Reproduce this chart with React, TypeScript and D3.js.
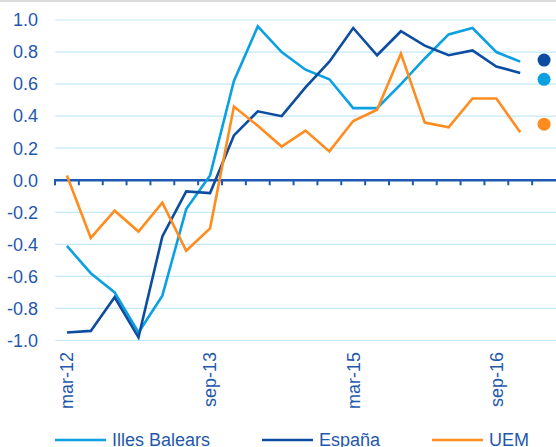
import { useEffect, useRef } from "react";
import * as d3 from "d3";

const quarters = [
  "mar-12", "jun-12", "sep-12", "dic-12",
  "mar-13", "jun-13", "sep-13", "dic-13",
  "mar-14", "jun-14", "sep-14", "dic-14",
  "mar-15", "jun-15", "sep-15", "dic-15",
  "mar-16", "jun-16", "sep-16", "dic-16",
  "2017",
];
const shownLabels = ["mar-12", "sep-13", "mar-15", "sep-16"];

const illesBalears = [-0.41, -0.58, -0.70, -0.95, -0.72, -0.18, 0.03, 0.62, 0.96, 0.80, 0.69, 0.63, 0.45, 0.45, 0.60, 0.76, 0.91, 0.95, 0.80, 0.74];
const espana = [-0.95, -0.94, -0.73, -0.98, -0.35, -0.07, -0.08, 0.28, 0.43, 0.40, 0.58, 0.74, 0.95, 0.78, 0.93, 0.84, 0.78, 0.81, 0.71, 0.67];
const uem = [0.03, -0.36, -0.19, -0.32, -0.14, -0.44, -0.30, 0.46, 0.34, 0.21, 0.31, 0.18, 0.37, 0.44, 0.79, 0.36, 0.33, 0.51, 0.51, 0.30];

// forecast dots in the last slot
const dotValues = [0.63, 0.75, 0.35];

const seriesNames = ["Illes Balears", "España", "UEM"];
const seriesColors = ["#0AA0E2", "#0C4DA2", "#FF8C1E"];
const yTicks = [1.0, 0.8, 0.6, 0.4, 0.2, 0.0, -0.2, -0.4, -0.6, -0.8, -1.0];

const textColor = "#1F58AC";
const font = "'Liberation Sans', Arial, sans-serif";

export default function App() {
  const svgRef = useRef<SVGSVGElement>(null);

  useEffect(() => {
    if (!svgRef.current) return;
    const svg = d3.select(svgRef.current);
    svg.selectAll("*").remove();

    const width = 556;

    const x = d3.scaleBand<string>()
      .domain(quarters)
      .range([55, 556])
      .padding(0);

    const y = d3.scaleLinear()
      .domain([-1, 1])
      .range([340.5, 20]);

    const cx = (i: number) => x(quarters[i])! + x.bandwidth() / 2;

    // top border strip
    svg.append("rect")
      .attr("x", 0)
      .attr("y", 0)
      .attr("width", width)
      .attr("height", 2)
      .style("fill", "#DCDCDC");

    // gridlines
    svg.append("g")
      .selectAll("line")
      .data(yTicks.filter(d => d !== 0))
      .enter()
      .append("line")
      .attr("x1", 55)
      .attr("x2", width)
      .attr("y1", d => y(d))
      .attr("y2", d => y(d))
      .style("stroke", "#C3E8F8")
      .style("stroke-width", 1.2);

    // y labels
    svg.append("g")
      .selectAll("text")
      .data(yTicks)
      .enter()
      .append("text")
      .attr("x", 38)
      .attr("y", d => y(d))
      .attr("dy", "0.35em")
      .attr("text-anchor", "end")
      .style("fill", textColor)
      .style("font-family", font)
      .style("font-size", "18px")
      .text(d => d.toFixed(1));

    // zero axis with ticks
    const axisG = svg.append("g");
    axisG.append("line")
      .attr("x1", 54)
      .attr("x2", width)
      .attr("y1", y(0))
      .attr("y2", y(0))
      .style("stroke", "#1E5AB4")
      .style("stroke-width", 2.5);

    axisG.selectAll(".tick")
      .data(quarters)
      .enter()
      .append("line")
      .attr("class", "tick")
      .attr("x1", d => x(d)!)
      .attr("x2", d => x(d)!)
      .attr("y1", y(0))
      .attr("y2", y(0) + 5)
      .style("stroke", "#1E5AB4")
      .style("stroke-width", 2);

    // x labels
    svg.append("g")
      .selectAll("text")
      .data(shownLabels)
      .enter()
      .append("text")
      .attr("transform", d => `translate(${x(d)! + x.bandwidth() / 2},352) rotate(-90)`)
      .attr("dy", "0.35em")
      .attr("text-anchor", "end")
      .style("fill", textColor)
      .style("font-family", font)
      .style("font-size", "18px")
      .text(d => d);

    // lines
    const line = d3.line<number>()
      .x((_, i) => cx(i))
      .y(d => y(d));

    [illesBalears, espana, uem].forEach((values, k) => {
      svg.append("path")
        .datum(values)
        .attr("d", line)
        .style("fill", "none")
        .style("stroke", seriesColors[k])
        .style("stroke-width", 2.6)
        .style("stroke-linejoin", "miter");
    });

    // dots
    svg.append("g")
      .selectAll("circle")
      .data(dotValues)
      .enter()
      .append("circle")
      .attr("cx", cx(quarters.length - 1))
      .attr("cy", d => y(d))
      .attr("r", 6.5)
      .style("fill", (_, i) => seriesColors[i]);

    // legend
    const legendX = [55, 262, 432];
    const legend = svg.append("g");
    seriesNames.forEach((name, i) => {
      legend.append("line")
        .attr("x1", legendX[i])
        .attr("x2", legendX[i] + 51)
        .attr("y1", 440)
        .attr("y2", 440)
        .style("stroke", seriesColors[i])
        .style("stroke-width", 2.6);
      legend.append("text")
        .attr("x", legendX[i] + 57)
        .attr("y", 445.5)
        .style("fill", textColor)
        .style("font-family", font)
        .style("font-size", "18px")
        .text(name);
    });
  }, []);

  return (
    <svg
      ref={svgRef}
      width={556}
      height={447}
      style={{ position: "absolute", left: 0, top: 0, background: "#fff" }}
    />
  );
}
